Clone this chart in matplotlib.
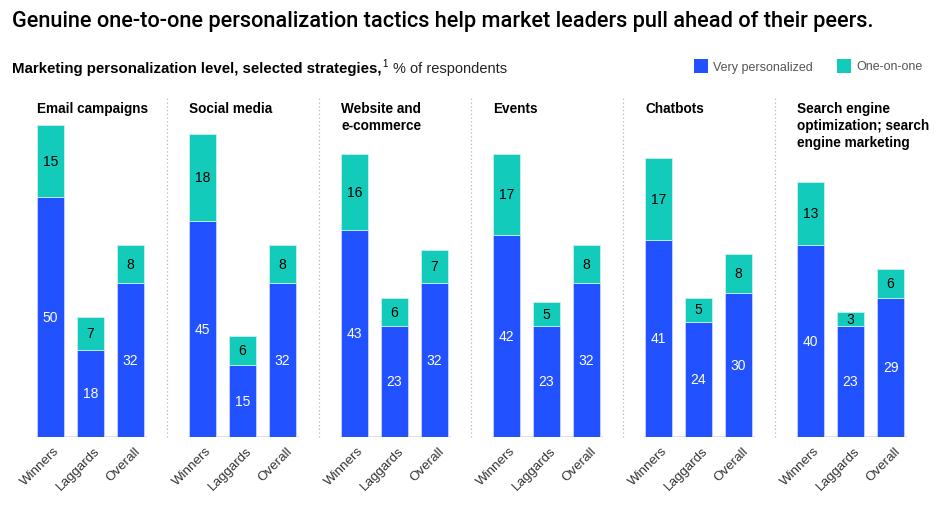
import matplotlib.pyplot as plt
from matplotlib.patches import Rectangle

plt.rcParams['font.family'] = ['Liberation Sans', 'DejaVu Sans']

BLUE = '#2251ff'
TEAL = '#12cbbb'

panels = ['Email campaigns', 'Social media', 'Website and\ne-commerce', 'Events',
          'Chatbots', 'Search engine\noptimization; search\nengine marketing']
groups = ['Winners', 'Laggards', 'Overall']
very_personalized = [[50, 18, 32], [45, 15, 32], [43, 23, 32],
                     [42, 23, 32], [41, 24, 30], [40, 23, 29]]
one_on_one = [[15, 7, 8], [18, 6, 8], [16, 6, 7],
              [17, 5, 8], [17, 5, 8], [13, 3, 6]]

W, H = 947, 506
fig = plt.figure(figsize=(W / 100, H / 100), dpi=100)

# titles
fig.text(12 / W, 1 - 22 / H, 'Genuine one-to-one personalization tactics help market leaders pull ahead of their peers.',
         fontsize=15.7, va='center', ha='left', color='#000000', family=['Roboto', 'Liberation Sans'],
         fontweight='medium')
t = fig.text(12 / W, 1 - 69 / H, 'Marketing personalization level, selected strategies,',
             fontsize=10.8, fontweight='bold', va='center', ha='left', color='#000000')
fig.canvas.draw()
bb = t.get_window_extent()
fig.text(bb.x1 / W + 1 / W, 1 - 64 / H, '1', fontsize=7, va='center', ha='left')
fig.text(bb.x1 / W + 11 / W, 1 - 69 / H, '% of respondents', fontsize=10.5, va='center', ha='left', color='#222222')

# legend
for x0, col, lab in [(694, BLUE, 'Very personalized'), (837, TEAL, 'One-on-one')]:
    fig.add_artist(Rectangle((x0 / W, 1 - 74 / H), 14 / W, 14 / H, facecolor=col,
                             edgecolor='none', transform=fig.transFigure))
    fig.text((x0 + 19) / W, 1 - 67.5 / H, lab, fontsize=9, va='center', ha='left', color='#555555')

scale = 4.8  # px per unit
for i, name in enumerate(panels):
    start = 37 + 152 * i
    ax = fig.add_axes([(start - 6.5) / W, (H - 437.7) / H, 120 / W, 70 * scale / H])
    ax.set_xlim(-0.5, 2.5)
    ax.set_ylim(0, 70)
    ax.axis('off')
    x = range(3)
    vp = very_personalized[i]
    oo = one_on_one[i]
    ax.bar(x, vp, width=0.675, color=BLUE, edgecolor='#c9d3ff', linewidth=0.6)
    ax.bar(x, oo, bottom=vp, width=0.675, color=TEAL, edgecolor='#c9f1ec', linewidth=0.6)
    ax.axhline(0, xmin=0.05, xmax=0.95, color='#dddddd', lw=2, zorder=0)
    for xi, a, b, g in zip(x, vp, oo, groups):
        ax.text(xi, a / 2, str(a), ha='center', va='center', color='white', fontsize=10)
        ax.text(xi, a + b / 2, str(b), ha='center', va='center', color='black', fontsize=10)
        ax.text(xi + 0.08, -1.6, g, rotation=45, rotation_mode='anchor', ha='right', va='top',
                fontsize=9.6, color='#333333', clip_on=False)
    ax.text(-0.3375, 70.0, name, ha='left', va='top', fontsize=9.8, fontweight='bold',
            linespacing=1.3, color='#000000', clip_on=False)
    if i < len(panels) - 1:
        ax.plot([2.9, 2.9], [0, 70.5], ls=(0, (1, 2)), color='#b5b5b5', lw=0.9, clip_on=False)

fig.savefig('out.png', dpi=100)
